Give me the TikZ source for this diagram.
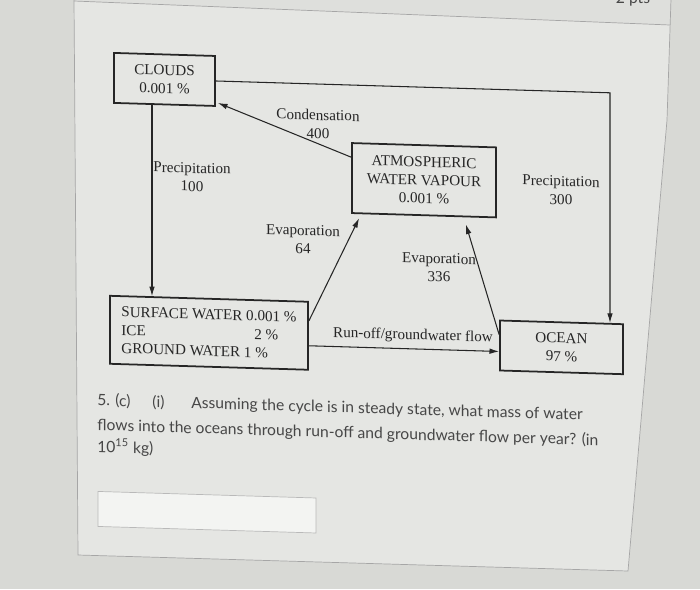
\documentclass[tikz,border=0pt]{standalone}
\usepackage{fontspec}
\setmainfont{Liberation Serif}
\newfontfamily\qfont{Lato}
\usetikzlibrary{arrows.meta, positioning, calc}

\definecolor{pagebg}{RGB}{216,217,213}
\definecolor{panelbg}{RGB}{229,230,227}
\definecolor{headbg}{RGB}{222,223,220}
\definecolor{ink}{RGB}{38,38,38}

\begin{document}
\begin{tikzpicture}[x=0.02cm, y=-0.02cm, >={Latex[length=5.5pt,width=3.2pt]},
  box/.style={draw=ink, line width=1pt, inner sep=0pt, align=center, text=ink,
    font=\fontsize{8.6}{10.4}\selectfont},
  lbl/.style={align=center, text=ink, inner sep=1pt, font=\fontsize{8.6}{10.4}\selectfont},
  flow/.style={draw=ink, line width=0.6pt},
  qtxt/.style={inner sep=0pt, text=ink!85, font=\qfont\fontsize{8.9}{10}\selectfont}]
  \useasboundingbox (0,0) rectangle (700,589);
  \fill[pagebg] (0,0) rectangle (700,589);
  % Panel of the quiz page
  \fill[panelbg] (74,-1) -- (78,555) -- (628,571) -- (667,120) -- (671,-1) -- cycle;
  \fill[headbg] (74,-1) -- (74,1) -- (670,25) -- (671,-1) -- cycle;
  \draw[gray!70] (74,-1) -- (78,555) -- (628,571) -- (667,120) -- (671,-1);
  \draw[gray!70] (74,1) -- (670,25);
  \node[qtxt, anchor=base] (pts) at (633,3) {2 pts};

  % Diagram, skewed as in the photo
  \begin{scope}[cm={1,-0.03,0,1,(0cm,0.21cm)}, transform shape]
    % Reservoirs
    \node[box, minimum width=2.02cm, minimum height=1.0cm] (clouds) at (164.5,85) {CLOUDS\\0.001 \%};
    \node[box, minimum width=2.88cm, minimum height=1.4cm] (atm) at (424,178) {ATMOSPHERIC\\WATER VAPOUR\\0.001 \%};
    \node[box, minimum width=3.96cm, minimum height=1.36cm, align=left] (surf) at (209,337)
      {SURFACE WATER 0.001 \%\\\makebox[2.66cm][l]{ICE}2 \%\\GROUND WATER 1 \%};
    \node[box, minimum width=2.46cm, minimum height=1.0cm] (ocean) at (561.5,341) {OCEAN\\97 \%};

    % Flows
    \coordinate (rx) at (610,0);
    \coordinate (px) at (152,0);
    \coordinate (ro) at (0,347);
    \draw[flow, ->] (clouds.east) -- (clouds.east -| rx) -- (ocean.north -| rx);
    \draw[flow, ->] (clouds.south -| px) -- (surf.north -| px);
    \draw[flow, ->] ($(atm.north west)+(0,15)$) -- ($(clouds.south east)+(2,-4)$);
    \draw[flow, ->] ($(surf.north east)+(0,20)$) -- ($(atm.south west)+(8,4)$);
    \draw[flow, ->] ($(ocean.north west)+(0,15)$) -- ($(atm.south east)+(-31,7)$);
    \draw[flow, ->] (surf.east |- ro) -- (ocean.west |- ro);

    % Flow labels
    \node[lbl] (lcond) at (318,125) {Condensation\\400};
    \node[lbl] (lp100) at (192,182) {Precipitation\\100};
    \node[lbl] (le64) at (303,241) {Evaporation\\64};
    \node[lbl] (le336) at (439,265) {Evaporation\\336};
    \node[lbl] (lp300) at (561,184) {Precipitation\\300};
    \node[lbl] (lro) at (413,334) {Run-off/groundwater flow};

    % Question
    \node[qtxt, anchor=base west] (q1a) at (97,413) {5. (c)};
    \node[qtxt, anchor=base west] (q1b) at (152,413) {(i)};
    \node[qtxt, anchor=base west] (q1c) at (191,413) {Assuming the cycle is in steady state, what mass of water};
    \node[qtxt, anchor=base west] (q2) at (97,438) {flows into the oceans through run-off and groundwater flow per year? (in};
    \node[qtxt, anchor=base west] (q3) at (97,460) {10\textsuperscript{15} kg)};
    \draw[gray!55, fill=white!55!panelbg] (98,499) rectangle (316,534);
  \end{scope}
\end{tikzpicture}
\end{document}
